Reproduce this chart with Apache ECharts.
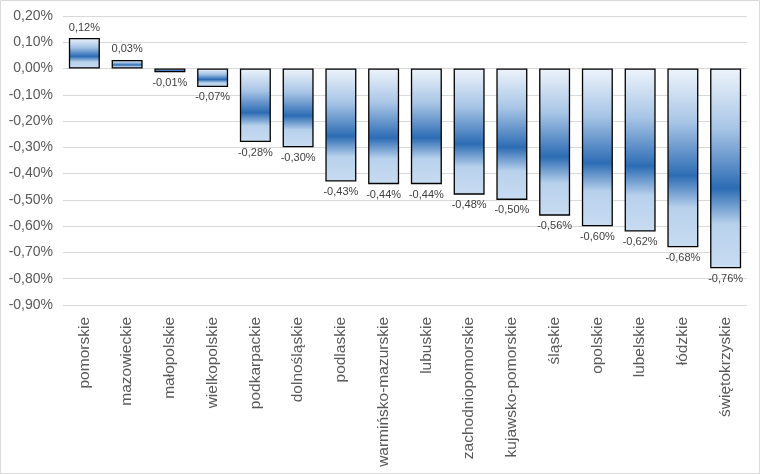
<!DOCTYPE html>
<html>
<head>
<meta charset="utf-8">
<script src="https://cdn.jsdelivr.net/npm/echarts@6/dist/echarts.min.js"></script>
<style>
  html, body { margin: 0; padding: 0; background: #fff; }
  #chart { width: 760px; height: 474px; }
</style>
</head>
<body>
<div id="chart"></div>
<script>
// regions, sorted by change (percent)
const regions = ['pomorskie', 'mazowieckie', 'małopolskie', 'wielkopolskie', 'podkarpackie',
  'dolnośląskie', 'podlaskie', 'warmińsko-mazurskie', 'lubuskie', 'zachodniopomorskie',
  'kujawsko-pomorskie', 'śląskie', 'opolskie', 'lubelskie', 'łódzkie', 'świętokrzyskie'];
const changes = [0.116, 0.033, -0.014, -0.07, -0.28, -0.30, -0.43, -0.44, -0.44, -0.48,
  -0.50, -0.56, -0.60, -0.62, -0.68, -0.76];

const yMin = -0.9, yMax = 0.2, yStep = 0.1;

function pct(v) {
  if (Math.abs(v) < 1e-9) v = 0;
  return v.toFixed(2).replace('.', ',') + '%';
}

// blue band in the middle, light top and bottom
const barFill = new echarts.graphic.LinearGradient(0, 0, 0, 1, [
  { offset: 0, color: '#eef4fb' },
  { offset: 0.3, color: '#a8c5e6' },
  { offset: 0.6, color: '#2c6cb4' },
  { offset: 0.78, color: '#b8d1ec' },
  { offset: 1, color: '#c8dcf1' }
]);

var myChart = echarts.init(document.getElementById('chart'));

const option = {
  animation: false,
  textStyle: { fontFamily: 'Liberation Sans, Arial, sans-serif' },
  grid: { left: 63, right: 13, top: 16, bottom: 169 },
  graphic: [{
    type: 'rect',
    shape: { x: 0.5, y: 0.5, width: 759, height: 473 },
    style: { fill: 'none', stroke: '#d9d9d9', lineWidth: 1 },
    silent: true
  }],
  xAxis: {
    type: 'category',
    data: regions,
    position: 'bottom',
    axisLine: { show: false, onZero: false },
    axisTick: { show: false },
    axisLabel: {
      rotate: 90,
      interval: 0,
      margin: 12,
      fontSize: 15.5,
      color: '#595959'
    }
  },
  yAxis: {
    type: 'value',
    min: yMin,
    max: yMax,
    interval: yStep,
    axisLine: { show: false },
    axisTick: { show: false },
    splitLine: { lineStyle: { color: '#d9d9d9', width: 1 } },
    axisLabel: {
      margin: 10,
      fontSize: 14,
      color: '#595959',
      formatter: pct
    }
  },
  series: [{
    type: 'bar',
    data: changes.map(v => ({
      value: v,
      label: { position: v >= 0 ? 'top' : 'bottom' }
    })),
    barWidth: 31,
    itemStyle: {
      color: barFill,
      borderColor: '#000',
      borderWidth: 1.3
    },
    label: {
      show: true,
      distance: 5,
      fontSize: 11,
      color: '#404040',
      formatter: p => pct(p.value)
    }
  }]
};

myChart.setOption(option);
</script>
</body>
</html>
